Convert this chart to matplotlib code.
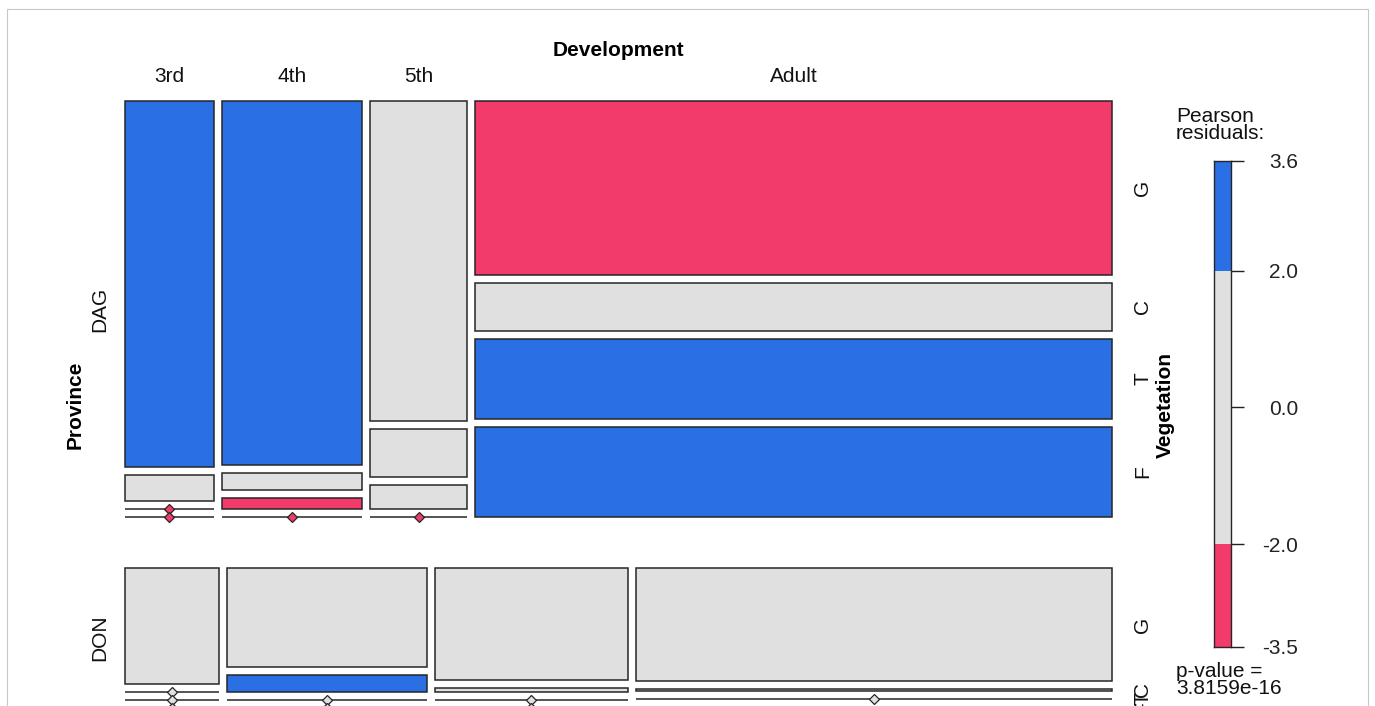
import numpy as np
import matplotlib
matplotlib.use("Agg")
import matplotlib.pyplot as plt
from matplotlib.patches import Rectangle

# ---- data -------------------------------------------------------------
provinces = ["DAG", "DON"]
development = ["3rd", "4th", "5th", "Adult"]
vegetation = ["G", "C", "T", "F"]

# counts per development stage (rows) and vegetation (columns)
dag_counts = [[42, 3, 0, 0],
              [66, 3, 2, 0],
              [40, 6, 3, 0],
              [143, 39, 66, 74]]
don_counts = [[16, 0, 0, 0],
              [29, 5, 0, 0],
              [32, 1, 0, 0],
              [79, 1, 0, 1]]

# Pearson residuals for the same cells
dag_residuals = [[3.6, 0.5, -2.2, -2.4],
                 [3.1, -0.3, -2.6, -2.9],
                 [1.2, 0.8, 0.4, -2.3],
                 [-3.5, 0.9, 2.6, 2.9]]
don_residuals = [[1.4, -1.0, -0.8, -1.1],
                 [0.3, 2.4, -1.2, -1.4],
                 [1.5, -0.6, -1.3, -1.5],
                 [1.7, -1.2, -1.6, -1.7]]

residual_breaks = [-3.5, -2.0, 2.0, 3.6]
legend_ticks = [-3.5, -2.0, 0.0, 2.0, 3.6]
p_value = 3.8159e-16

# ---- style --------------------------------------------------------------
shade_colors = ["#f23b6a", "#e0e0e0", "#2a6fe4"]
edge = "#262626"
plt.rcParams["font.family"] = ["Liberation Sans", "DejaVu Sans"]
FS = 15

W, H = 1375, 706
fig = plt.figure(figsize=(W / 100, H / 100), dpi=100)
ax = fig.add_axes([0, 0, 1, 1])
ax.set_xlim(0, W)
ax.set_ylim(H, 0)
ax.axis("off")

# outer frame
ax.add_patch(Rectangle((7, 9), 1361, 800, fill=False, ec="#c8c8c8", lw=0.8))

# mosaic box and spacing (pixels)
left, right, top, bottom = 125, 1112, 101, 708
gap_prov, gap_dev, gap_veg = 51, 8, 8


def shade(r):
    if r <= residual_breaks[1]:
        return shade_colors[0]
    if r >= residual_breaks[2]:
        return shade_colors[2]
    return shade_colors[1]


counts = np.array([dag_counts, don_counts], dtype=float)
resid = np.array([dag_residuals, don_residuals], dtype=float)
prov_tot = counts.sum(axis=(1, 2))
avail_h = (bottom - top) - gap_prov * (len(provinces) - 1)
avail_w = (right - left) - gap_dev * (len(development) - 1)

y = top
for p, pname in enumerate(provinces):
    h_p = prov_tot[p] / prov_tot.sum() * avail_h
    dev_tot = counts[p].sum(axis=1)
    avail_v = h_p - gap_veg * (len(vegetation) - 1)
    x = left
    for d, dname in enumerate(development):
        w = dev_tot[d] / prov_tot[p] * avail_w
        yy = y
        for v, vname in enumerate(vegetation):
            n = counts[p, d, v]
            hv = n / dev_tot[d] * avail_v
            col = shade(resid[p, d, v])
            if n == 0:
                ax.plot([x, x + w], [yy, yy], color=edge, lw=1.1,
                        solid_capstyle="butt", zorder=3)
                ax.plot(x + w / 2, yy, marker="D", ms=5.5, mfc=col,
                        mec=edge, mew=0.9, zorder=4)
            else:
                ax.add_patch(Rectangle((x, yy), w, hv, fc=col, ec=edge,
                                       lw=1.1, zorder=2))
            if d == len(development) - 1:
                ax.text(1143, yy + hv / 2, vname, rotation=90, ha="center",
                        va="center", fontsize=FS, color="#111111")
            yy += hv + gap_veg
        if p == 0:
            ax.text(x + w / 2, 76, dname, ha="center", va="center",
                    fontsize=FS, color="#111111")
        x += w + gap_dev
    ax.text(100, y + h_p / 2, pname, rotation=90, ha="center", va="center",
            fontsize=FS, color="#111111")
    y += h_p + gap_prov

mid_x = (left + right) / 2
mid_y = (top + bottom) / 2
ax.text(mid_x, 51, "Development", ha="center", va="center",
        fontsize=FS, fontweight="bold")
ax.text(75, mid_y, "Province", rotation=90, ha="center", va="center",
        fontsize=FS, fontweight="bold")
ax.text(1165, mid_y, "Vegetation", rotation=90, ha="center", va="center",
        fontsize=FS, fontweight="bold")

# ---- legend ---------------------------------------------------------------
lx0, lx1, ly0, ly1 = 1214, 1231, 161, 647
lax = fig.add_axes([lx0 / W, 1 - ly1 / H, (lx1 - lx0) / W, (ly1 - ly0) / H])
lax.set_xlim(0, 1)
lax.set_ylim(residual_breaks[0], residual_breaks[-1])
for lo, hi, c in zip(residual_breaks[:-1], residual_breaks[1:], shade_colors):
    lax.bar(0.5, hi - lo, bottom=lo, width=1, color=c, edgecolor="none")
lax.set_xticks([])
lax.yaxis.tick_right()
lax.set_yticks(legend_ticks)
lax.set_yticklabels([f"{t:.1f}" for t in legend_ticks], fontsize=FS,
                    ha="right")
lax.tick_params(axis="y", direction="out", length=9.5, width=1.0,
                pad=39, colors="#222222")
for s in lax.spines.values():
    s.set_color(edge)
    s.set_linewidth(1.0)

ax.text(1176, 107, "Pearson\nresiduals:", ha="left", va="top",
        fontsize=FS, linespacing=0.85, color="#111111")
ax.text(1176, 662, f"p-value =\n{p_value:.4e}", ha="left", va="top",
        fontsize=FS, linespacing=0.85, color="#111111")

fig.savefig("out.png", dpi=100)
